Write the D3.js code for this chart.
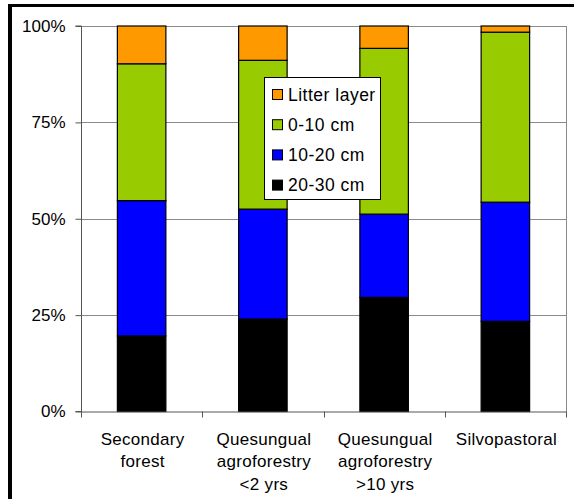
<!DOCTYPE html>
<html>
<head>
<meta charset="utf-8">
<script src="https://cdn.jsdelivr.net/npm/d3@7"></script>
<style>
  html, body { margin: 0; padding: 0; background: #fff; }
  svg { display: block; }
  text { font-family: "Liberation Sans", Arial, Helvetica, sans-serif; }
</style>
</head>
<body>
<script>
// ---- data ----
const categories = [
  ["Secondary", "forest"],
  ["Quesungual", "agroforestry", "<2 yrs"],
  ["Quesungual", "agroforestry", ">10 yrs"],
  ["Silvopastoral"]
];
const seriesNames = ["20-30 cm", "10-20 cm", "0-10 cm", "Litter layer"];
const seriesColors = ["#000000", "#0000FF", "#99CC00", "#FF9900"];
// shares (fraction of 100%) per category, bottom to top
const depth20_30 = [0.196, 0.240, 0.296, 0.234];
const depth10_20 = [0.351, 0.285, 0.216, 0.309];
const depth0_10  = [0.355, 0.386, 0.430, 0.441];
const litter     = [0.098, 0.089, 0.058, 0.016];
const yTicks = [0, 0.25, 0.5, 0.75, 1];
const yTickLabels = ["0%", "25%", "50%", "75%", "100%"];

const W = 574, H = 499;
const svg = d3.select("body").append("svg").attr("width", W).attr("height", H);

const pLeft = 81, pRight = 566, pTop = 26, pBottom = 411.5;

const keys = categories.map((c, i) => "c" + i);
const x = d3.scaleBand().domain(keys).range([pLeft, pRight]).padding(0);
const y = d3.scaleLinear().domain([0, 1]).range([pBottom, pTop]);

// outer frame (left and top thick lines)
svg.append("rect").attr("x", 8).attr("y", 4).attr("width", 4).attr("height", H - 4).attr("fill", "#000");
svg.append("rect").attr("x", 8).attr("y", 4).attr("width", W - 8).attr("height", 3).attr("fill", "#000");

// gridlines
svg.append("g").selectAll("line").data(yTicks.slice(1)).join("line")
  .attr("x1", pLeft).attr("x2", pRight)
  .attr("y1", d => Math.round(y(d)) + 0.5).attr("y2", d => Math.round(y(d)) + 0.5)
  .attr("stroke", "#8a8a8a").attr("stroke-width", 1);
// right border of plot area
svg.append("line").attr("x1", pRight + 0.5).attr("x2", pRight + 0.5)
  .attr("y1", pTop).attr("y2", pBottom).attr("stroke", "#8a8a8a");

// stacked data
const table = keys.map((k, i) => ({
  key: k,
  "20-30 cm": depth20_30[i],
  "10-20 cm": depth10_20[i],
  "0-10 cm": depth0_10[i],
  "Litter layer": litter[i]
}));
const stacked = d3.stack().keys(seriesNames)(table);

const barW = x.bandwidth() * 0.4;
const off = (x.bandwidth() - barW) / 2;

svg.append("g").selectAll("g").data(stacked).join("g")
  .attr("fill", (d, i) => seriesColors[i])
  .selectAll("rect").data(d => d).join("rect")
  .attr("x", d => x(d.data.key) + off)
  .attr("width", barW)
  .attr("y", d => y(Math.min(1, d[1])))
  .attr("height", d => y(d[0]) - y(Math.min(1, d[1])))
  .attr("stroke", "#000").attr("stroke-width", 1.2);

// y axis
const yAxis = svg.append("g").attr("transform", `translate(${pLeft + 0.5},0)`)
  .call(d3.axisLeft(y).tickValues(yTicks).tickFormat((d, i) => yTickLabels[i]).tickSize(6).tickPadding(10));
yAxis.select(".domain").attr("stroke", "#555").attr("d", `M-6,${y(1)}H0V${y(0)}H-6`);
yAxis.selectAll(".tick line").attr("stroke", "#555");
yAxis.selectAll("text").attr("font-size", 17).attr("fill", "#000");

// x axis
const xAxis = svg.append("g").attr("transform", `translate(0,${pBottom})`);
xAxis.append("line").attr("x1", pLeft).attr("x2", pRight + 1).attr("y1", 0.5).attr("y2", 0.5).attr("stroke", "#555");
const boundaries = keys.map(k => x(k)).concat([pRight]);
xAxis.selectAll("line.tk").data(boundaries).join("line").attr("class", "tk")
  .attr("x1", d => Math.round(d) + 0.5).attr("x2", d => Math.round(d) + 0.5)
  .attr("y1", 0).attr("y2", 6).attr("stroke", "#555");
const lbl = xAxis.selectAll("text.cat").data(categories).join("text").attr("class", "cat")
  .attr("text-anchor", "middle").attr("font-size", 17).attr("fill", "#000")
  .attr("letter-spacing", 0.3)
  .attr("x", (d, i) => x(keys[i]) + x.bandwidth() / 2 + 1)
  .attr("y", 33);
lbl.selectAll("tspan").data(d => d).join("tspan")
  .attr("x", function () { return d3.select(this.parentNode).attr("x"); })
  .attr("dy", (d, j) => j === 0 ? 0 : 22.5)
  .text(d => d);

// legend
const lg = svg.append("g");
lg.append("rect").attr("x", 264.5).attr("y", 77.5).attr("width", 116).attr("height", 122)
  .attr("fill", "#fff").attr("stroke", "#000").attr("stroke-width", 1);
const legendOrder = [3, 2, 1, 0];
legendOrder.forEach((si, r) => {
  const cy = 94.5 + r * 30.2;
  lg.append("rect").attr("x", 272.5).attr("y", cy - 5).attr("width", 10).attr("height", 10)
    .attr("fill", seriesColors[si]).attr("stroke", "#000").attr("stroke-width", 1);
  lg.append("text").attr("x", 288).attr("y", cy + 6).attr("font-size", 17.5).attr("fill", "#000")
    .attr("letter-spacing", 0.5)
    .text(seriesNames[si]);
});
</script>
</body>
</html>
